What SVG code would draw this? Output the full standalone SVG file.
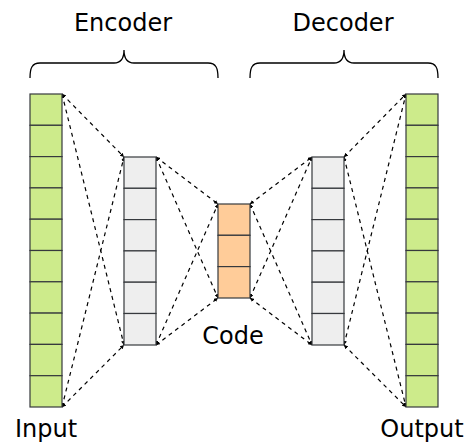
<svg xmlns="http://www.w3.org/2000/svg" width="465" height="443" viewBox="0 0 465 443">
  <style>
    .cell { stroke: #36393d; stroke-width: 1.2; }
    .in { fill: #cdeb8b; }
    .hid { fill: #eeeeee; }
    .code { fill: #ffcc99; }
    .link { fill: none; stroke: #000; stroke-width: 1.2; stroke-dasharray: 4 4; marker-start: url(#tip); marker-end: url(#tip); }
    .brace { fill: none; stroke: #000; stroke-width: 1.3; }
    .lbl { font-family: "DejaVu Sans", sans-serif; font-size: 24px; fill: #000; text-anchor: middle; }
  </style>
  <defs>
    <marker id="tip" viewBox="0 0 6 6" refX="6" refY="3" markerWidth="4" markerHeight="4" orient="auto-start-reverse" markerUnits="userSpaceOnUse">
      <path d="M0,0 L6,3 L0,6 Z" fill="#000"/>
    </marker>
  </defs>

  <!-- connectors -->
  <g id="connectors">
    <path class="link" d="M62,94 L124,157"/>
    <path class="link" d="M62,94 L124,345"/>
    <path class="link" d="M62,407 L124,157"/>
    <path class="link" d="M62,407 L124,345"/>
    <path class="link" d="M156,157 L218,204"/>
    <path class="link" d="M156,157 L218,298"/>
    <path class="link" d="M156,345 L218,204"/>
    <path class="link" d="M156,345 L218,298"/>
    <path class="link" d="M250,204 L312,157"/>
    <path class="link" d="M250,204 L312,345"/>
    <path class="link" d="M250,298 L312,157"/>
    <path class="link" d="M250,298 L312,345"/>
    <path class="link" d="M344,157 L406,94"/>
    <path class="link" d="M344,157 L406,407"/>
    <path class="link" d="M344,345 L406,94"/>
    <path class="link" d="M344,345 L406,407"/>
  </g>

  <!-- input layer -->
  <g id="input">
    <rect class="cell in" x="30" y="94" width="32" height="31.3"/>
    <rect class="cell in" x="30" y="125.3" width="32" height="31.3"/>
    <rect class="cell in" x="30" y="156.6" width="32" height="31.3"/>
    <rect class="cell in" x="30" y="187.9" width="32" height="31.3"/>
    <rect class="cell in" x="30" y="219.2" width="32" height="31.3"/>
    <rect class="cell in" x="30" y="250.5" width="32" height="31.3"/>
    <rect class="cell in" x="30" y="281.8" width="32" height="31.3"/>
    <rect class="cell in" x="30" y="313.1" width="32" height="31.3"/>
    <rect class="cell in" x="30" y="344.4" width="32" height="31.3"/>
    <rect class="cell in" x="30" y="375.7" width="32" height="31.3"/>
    <text class="lbl" x="46" y="437">Input</text>
  </g>

  <!-- encoder hidden layer -->
  <g id="encoder-hidden">
    <rect class="cell hid" x="124" y="157" width="32" height="31.3"/>
    <rect class="cell hid" x="124" y="188.3" width="32" height="31.3"/>
    <rect class="cell hid" x="124" y="219.6" width="32" height="31.3"/>
    <rect class="cell hid" x="124" y="250.9" width="32" height="31.3"/>
    <rect class="cell hid" x="124" y="282.2" width="32" height="31.3"/>
    <rect class="cell hid" x="124" y="313.5" width="32" height="31.5"/>
  </g>

  <!-- code layer -->
  <g id="code">
    <rect class="cell code" x="218" y="204" width="32" height="31.3"/>
    <rect class="cell code" x="218" y="235.3" width="32" height="31.3"/>
    <rect class="cell code" x="218" y="266.6" width="32" height="31.4"/>
    <text class="lbl" x="233" y="344">Code</text>
  </g>

  <!-- decoder hidden layer -->
  <g id="decoder-hidden">
    <rect class="cell hid" x="312" y="157" width="32" height="31.3"/>
    <rect class="cell hid" x="312" y="188.3" width="32" height="31.3"/>
    <rect class="cell hid" x="312" y="219.6" width="32" height="31.3"/>
    <rect class="cell hid" x="312" y="250.9" width="32" height="31.3"/>
    <rect class="cell hid" x="312" y="282.2" width="32" height="31.3"/>
    <rect class="cell hid" x="312" y="313.5" width="32" height="31.5"/>
  </g>

  <!-- output layer -->
  <g id="output">
    <rect class="cell in" x="406" y="94" width="32" height="31.3"/>
    <rect class="cell in" x="406" y="125.3" width="32" height="31.3"/>
    <rect class="cell in" x="406" y="156.6" width="32" height="31.3"/>
    <rect class="cell in" x="406" y="187.9" width="32" height="31.3"/>
    <rect class="cell in" x="406" y="219.2" width="32" height="31.3"/>
    <rect class="cell in" x="406" y="250.5" width="32" height="31.3"/>
    <rect class="cell in" x="406" y="281.8" width="32" height="31.3"/>
    <rect class="cell in" x="406" y="313.1" width="32" height="31.3"/>
    <rect class="cell in" x="406" y="344.4" width="32" height="31.3"/>
    <rect class="cell in" x="406" y="375.7" width="32" height="31.3"/>
    <text class="lbl" x="422" y="437">Output</text>
  </g>

  <!-- encoder brace -->
  <g id="encoder">
    <path class="brace" d="M30,78 C30,68 32,63 40,63 H114 C120,63 124,60 124,50 C124,60 128,63 134,63 H208 C216,63 218,68 218,78"/>
    <text class="lbl" x="123" y="31">Encoder</text>
  </g>

  <!-- decoder brace -->
  <g id="decoder">
    <path class="brace" d="M250,78 C250,68 252,63 260,63 H334 C340,63 344,60 344,50 C344,60 348,63 354,63 H428 C436,63 438,68 438,78"/>
    <text class="lbl" x="343" y="31">Decoder</text>
  </g>
</svg>
